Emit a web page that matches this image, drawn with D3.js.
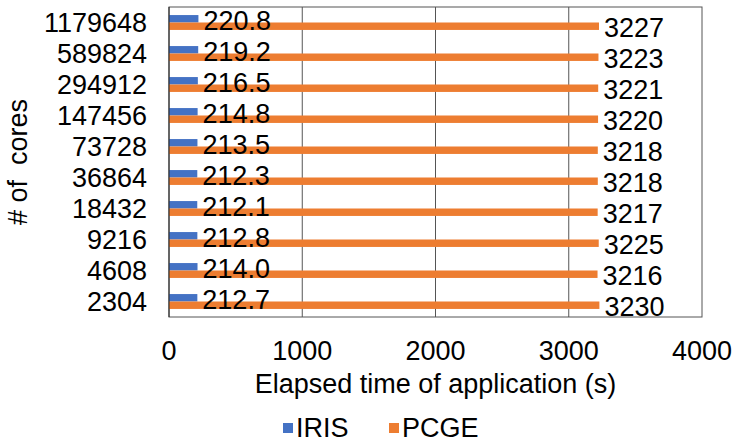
<!DOCTYPE html>
<html>
<head>
<meta charset="utf-8">
<script src="https://cdn.jsdelivr.net/npm/d3@7"></script>
<style>
  body { margin: 0; background: #fff; }
  svg text { font-family: "Liberation Sans", Arial, sans-serif; fill: #000; }
</style>
</head>
<body>
<svg id="chart" width="734" height="443"></svg>
<script>
// data, top row first (as shown)
var cores = ["1179648", "589824", "294912", "147456", "73728", "36864", "18432", "9216", "4608", "2304"]
var irisTime = [220.8, 219.2, 216.5, 214.8, 213.5, 212.3, 212.1, 212.8, 214.0, 212.7]
var pcgeTime = [3227, 3223, 3221, 3220, 3218, 3218, 3217, 3225, 3216, 3230]
var seriesNames = ["IRIS", "PCGE"]
var seriesColors = ["#4472C4", "#ED7D31"]
var xTicks = [0, 1000, 2000, 3000, 4000]

var plot = { left: 169, right: 702, top: 7, bottom: 317 }
var fontSize = 27

var svg = d3.select("#chart")

var xScale = d3.scaleLinear().domain([0, 4000]).range([plot.left, plot.right])
var yScale = d3.scaleBand().domain(cores).range([plot.top, plot.bottom])
    .paddingInner(0.52).paddingOuter(0.26)
var subScale = d3.scaleBand().domain(seriesNames).range([0, yScale.bandwidth()])

// gridlines
svg.append("g").selectAll("line")
    .data(xTicks.slice(1, -1))
    .enter().append("line")
    .attr("x1", d => xScale(d)).attr("x2", d => xScale(d))
    .attr("y1", plot.top).attr("y2", plot.bottom)
    .attr("stroke", "#555").attr("stroke-width", 1)

// plot border
svg.append("rect")
    .attr("x", plot.left).attr("y", plot.top)
    .attr("width", plot.right - plot.left).attr("height", plot.bottom - plot.top)
    .attr("fill", "none").attr("stroke", "#555").attr("stroke-width", 1)

var rows = cores.map((c, i) => ({ core: c, IRIS: irisTime[i], PCGE: pcgeTime[i] }))

// bars first, labels on top
seriesNames.forEach(function (s, si) {
    svg.append("g").selectAll("rect")
        .data(rows)
        .enter().append("rect")
        .attr("x", xScale(0))
        .attr("y", d => yScale(d.core) + subScale(s))
        .attr("width", d => xScale(d[s]) - xScale(0))
        .attr("height", subScale.bandwidth())
        .attr("fill", seriesColors[si])
})
seriesNames.forEach(function (s) {
    svg.append("g").selectAll("text")
        .data(rows)
        .enter().append("text")
        .attr("x", d => xScale(d[s]) + 5)
        .attr("y", d => yScale(d.core) + subScale(s) + subScale.bandwidth() / 2)
        .attr("dy", "0.4em")
        .style("font-size", fontSize + "px")
        .text(d => s == "IRIS" ? d[s].toFixed(1) : d[s])
})

// left axis line
svg.append("line")
    .attr("x1", plot.left).attr("x2", plot.left)
    .attr("y1", plot.top).attr("y2", plot.bottom)
    .attr("stroke", "#222")

// y tick labels
svg.append("g").selectAll("text")
    .data(cores)
    .enter().append("text")
    .attr("x", plot.left - 22)
    .attr("y", d => yScale(d) + yScale.bandwidth() / 2)
    .attr("dy", "0.36em")
    .attr("text-anchor", "end")
    .style("font-size", fontSize + "px")
    .text(d => d)

// x tick labels
svg.append("g").selectAll("text")
    .data(xTicks)
    .enter().append("text")
    .attr("x", d => xScale(d))
    .attr("y", 360)
    .attr("text-anchor", "middle")
    .style("font-size", fontSize + "px")
    .text(d => d)

// axis titles
svg.append("text")
    .attr("x", (plot.left + plot.right) / 2)
    .attr("y", 393)
    .attr("text-anchor", "middle")
    .style("font-size", fontSize + "px")
    .text("Elapsed time of application (s)")

svg.append("text")
    .attr("transform", "translate(27," + ((plot.top + plot.bottom) / 2) + ") rotate(-90)")
    .attr("text-anchor", "middle")
    .style("font-size", fontSize + "px")
    .style("white-space", "pre")
    .text("# of  cores")

// legend
var legendX = [283, 389]
var legend = svg.append("g")
seriesNames.forEach(function (s, i) {
    legend.append("rect")
        .attr("x", legendX[i]).attr("y", 423)
        .attr("width", 10).attr("height", 10)
        .attr("fill", seriesColors[i])
    legend.append("text")
        .attr("x", legendX[i] + 13).attr("y", 437)
        .style("font-size", fontSize + "px")
        .text(s)
})
</script>
</body>
</html>
